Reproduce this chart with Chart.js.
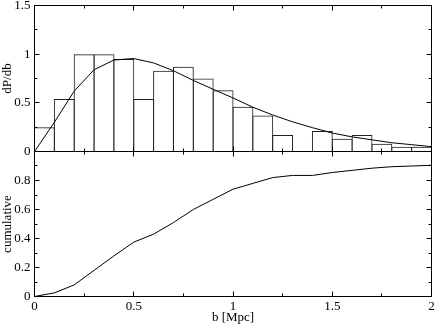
<!DOCTYPE html>
<html>
<head>
<meta charset="utf-8">
<script src="https://cdn.jsdelivr.net/npm/chart.js@4.4.0/dist/chart.umd.min.js"></script>
<style>
  html, body { margin: 0; padding: 0; background: #fff; }
  #wrap { position: relative; width: 436px; height: 326px; overflow: hidden; }
  canvas { position: absolute; left: 0; }
</style>
</head>
<body>
<div id="wrap">
  <canvas id="topChart" width="436" height="160" style="top:0px"></canvas>
  <canvas id="bottomChart" width="436" height="186" style="top:140px"></canvas>
</div>
<script>
// centros dos bins do histograma (largura 0.1 Mpc)
const binCenters = [0.05, 0.15, 0.25, 0.35, 0.45, 0.55, 0.65, 0.75, 0.85, 0.95,
                    1.05, 1.15, 1.25, 1.35, 1.45, 1.55, 1.65, 1.75, 1.85, 1.95];
const histValues = [0.25, 0.54, 1.0, 1.0, 0.95, 0.54, 0.83, 0.87, 0.75, 0.63,
                    0.46, 0.37, 0.17, 0, 0.21, 0.13, 0.17, 0.08, 0.05, 0.05];

// pontos da curva (b em Mpc)
const bValues = [0, 0.1, 0.2, 0.3, 0.4, 0.5, 0.6, 0.7, 0.8, 0.9, 1.0,
                 1.1, 1.2, 1.3, 1.4, 1.5, 1.6, 1.7, 1.8, 1.9, 2.0];
const fitValues = [0, 0.3, 0.62, 0.84, 0.94, 0.955, 0.91, 0.83, 0.73, 0.64, 0.55,
                   0.455, 0.375, 0.305, 0.245, 0.19, 0.15, 0.12, 0.09, 0.07, 0.05];
const cumulative = [0, 0.025, 0.08, 0.18, 0.28, 0.375, 0.43, 0.51, 0.6, 0.67, 0.74,
                    0.78, 0.82, 0.835, 0.835, 0.855, 0.87, 0.885, 0.895, 0.9, 0.905];

// marcas dos eixos
const xMajor = [0.5, 1, 1.5];
const xMinor = [0.25, 0.75, 1.25, 1.75];
const topYMajor = [0.5, 1];
const topYMinor = [0.25, 0.75, 1.25];
const botYMajor = [0.2, 0.4, 0.6, 0.8];
const botYMinor = [0.1, 0.3, 0.5, 0.7, 0.9];

const serif = { family: 'Liberation Serif', size: 13 };

// rótulos sem zeros à direita: 0, 0.5, 1, 1.5
const fmt = v => String(Math.round(v * 10) / 10);

// moldura com marcas para dentro (estilo xmgrace)
const framePlugin = {
    id: 'frame',
    afterDatasetsDraw(chart, args, opts) {
        const { ctx, chartArea: a, scales } = chart;
        const snap = v => Math.floor(v) + 0.5;
        ctx.save();
        ctx.strokeStyle = '#000';
        ctx.lineWidth = 1;
        ctx.strokeRect(a.left, a.top, a.right - a.left, a.bottom - a.top);
        ctx.beginPath();
        const xt = (vals, len) => vals.forEach(v => {
            const px = snap(scales.x.getPixelForValue(v));
            ctx.moveTo(px, a.bottom); ctx.lineTo(px, a.bottom - len);
            ctx.moveTo(px, a.top); ctx.lineTo(px, a.top + len);
        });
        const yt = (vals, len) => vals.forEach(v => {
            const py = snap(scales.y.getPixelForValue(v));
            ctx.moveTo(a.left, py); ctx.lineTo(a.left + len, py);
            ctx.moveTo(a.right, py); ctx.lineTo(a.right - len, py);
        });
        xt(opts.xMajor, 5); xt(opts.xMinor, 3);
        yt(opts.yMajor, 5); yt(opts.yMinor, 3);
        ctx.stroke();
        ctx.restore();
    }
};

function fixWidth(w) {
    return function (scale) {
        scale.width = w;
        scale.paddingTop = 0; scale.paddingBottom = 0;
    };
}
function fixHeight(h) {
    return function (scale) {
        scale.height = h;
        scale.paddingLeft = 0; scale.paddingRight = 0;
    };
}

new Chart(document.getElementById('topChart'), {
    type: 'bar',
    data: {
        datasets: [{
            type: 'line',
            data: bValues.map((b, i) => ({ x: b, y: fitValues[i] })),
            borderColor: '#000',
            borderWidth: 1,
            pointRadius: 0,
            tension: 0
        }, {
            type: 'bar',
            data: binCenters.map((b, i) => ({ x: b, y: histValues[i] })),
            backgroundColor: 'rgba(0,0,0,0)',
            borderColor: '#222',
            borderWidth: 1,
            barPercentage: 1.05,
            categoryPercentage: 1
        }]
    },
    options: {
        responsive: false,
        animation: false,
        layout: { padding: { top: 5.5, right: 4.5, bottom: 8.5, left: 0 } },
        plugins: {
            legend: { display: false },
            tooltip: { enabled: false },
            frame: { xMajor: xMajor, xMinor: xMinor, yMajor: topYMajor, yMinor: topYMinor }
        },
        scales: {
            x: {
                type: 'linear', min: 0, max: 2, offset: false,
                display: false,
                afterFit: fixHeight(0)
            },
            y: {
                min: 0, max: 1.5,
                ticks: { stepSize: 0.5, padding: 4, color: '#000', font: serif, callback: fmt },
                grid: { display: false, drawTicks: false },
                border: { display: false },
                title: { display: true, text: 'dP/db', padding: 0, color: '#000', font: serif },
                afterFit: fixWidth(34.5)
            }
        }
    },
    plugins: [framePlugin]
});

new Chart(document.getElementById('bottomChart'), {
    type: 'line',
    data: {
        datasets: [{
            data: bValues.map((b, i) => ({ x: b, y: cumulative[i] })),
            borderColor: '#000',
            borderWidth: 1,
            pointRadius: 0,
            tension: 0
        }]
    },
    options: {
        responsive: false,
        animation: false,
        layout: { padding: { top: 11.5, right: 4.5, bottom: 0, left: 0 } },
        plugins: {
            legend: { display: false },
            tooltip: { enabled: false },
            frame: { xMajor: xMajor, xMinor: xMinor, yMajor: botYMajor, yMinor: botYMinor }
        },
        scales: {
            x: {
                type: 'linear', min: 0, max: 2,
                ticks: { stepSize: 0.5, padding: 2, maxRotation: 0, autoSkip: false,
                         color: '#000', font: serif, callback: fmt },
                grid: { display: false, drawTicks: false },
                border: { display: false },
                title: { display: true, text: 'b [Mpc]', padding: { top: 0, bottom: 1 },
                         color: '#000', font: serif },
                afterFit: fixHeight(29.5)
            },
            y: {
                min: 0, max: 1,
                ticks: {
                    stepSize: 0.2, padding: 4, color: '#000', font: serif,
                    callback: v => v >= 1 ? '' : fmt(v)
                },
                grid: { display: false, drawTicks: false },
                border: { display: false },
                title: { display: true, text: 'cumulative', padding: 0, color: '#000', font: serif },
                afterFit: fixWidth(34.5)
            }
        }
    },
    plugins: [framePlugin]
});
</script>
</body>
</html>
